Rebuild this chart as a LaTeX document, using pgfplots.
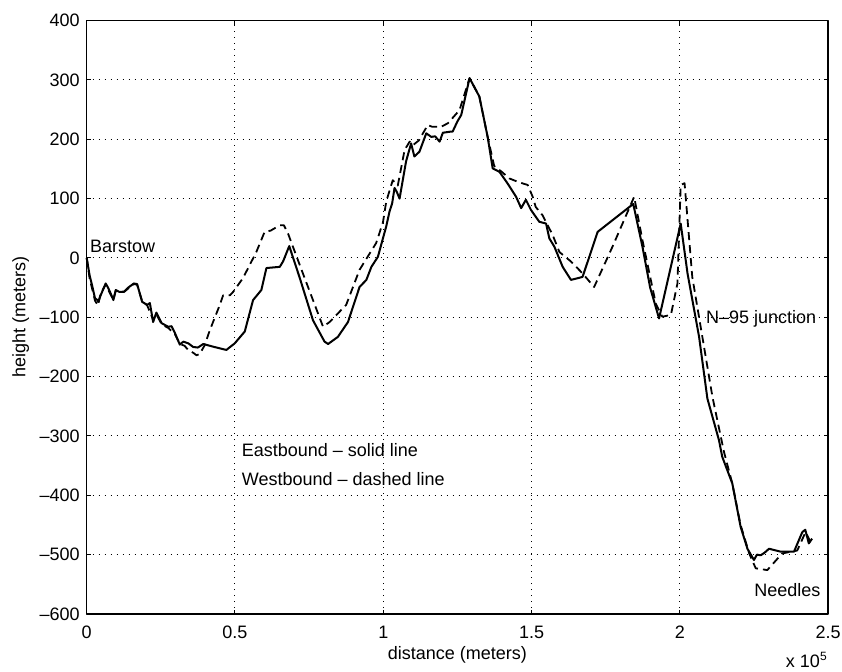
\documentclass[border=0pt]{standalone}
\usepackage{fontspec}
\setmainfont{Liberation Sans}
\usepackage{pgfplots}
\pgfplotsset{compat=1.18}

\begin{document}
\begin{tikzpicture}[font=\fontsize{9}{11}\selectfont]
\path[use as bounding box] (-43.35pt,-28.5pt) rectangle (377.65pt,307pt);
\begin{axis}[
    at={(0,0)}, anchor=south west,
    scale only axis, width=370.7pt, height=296.7pt,
    xmin=0, xmax=250000, ymin=-600, ymax=400,
    xtick={0,50000,100000,150000,200000,250000},
    xticklabels={0,0.5,1,1.5,2,2.5},
    ytick={-600,-500,-400,-300,-200,-100,0,100,200,300,400},
    yticklabels={--600,--500,--400,--300,--200,--100,0,100,200,300,400},
    scaled x ticks=false, scaled y ticks=false,
    tick align=inside, tick pos=both,
    major tick length=2pt,
    tick style={black, line width=0.5pt},
    axis line style={line width=0.7pt},
    xticklabel style={yshift=-2.5pt},
    grid=major,
    major grid style={black, line width=0.5pt, dash pattern=on 0.5pt off 2.5pt},
    every axis x label/.style={at={(rel axis cs:0.5,0)}, yshift=-20.5pt, anchor=center},
    every axis y label/.style={at={(rel axis cs:0,0.5)}, xshift=-33pt, rotate=90, anchor=center},
    xlabel={distance (meters)},
    ylabel={height (meters)},
    clip=false,
    line join=round,
]
% Eastbound
\addplot[black, line width=1pt] coordinates {
(0,0) (1000,-30) (1900,-48) (2800,-68) (3600,-71) (3900,-74) (4700,-63)
(6400,-43) (7200,-50) (8100,-60) (9000,-71) (9800,-54) (10900,-57)
(12600,-57) (14000,-50) (15900,-43) (17000,-44) (18700,-74) (20400,-79)
(21300,-76) (22400,-108) (23500,-92) (25300,-110) (27500,-116) (28600,-115)
(29700,-126) (31400,-146) (32600,-141) (34300,-144) (35900,-150) (37500,-151)
(39300,-145) (43000,-150) (47100,-155) (49900,-144) (53300,-124) (56100,-71)
(58900,-54) (60600,-17) (65100,-15) (66200,-6) (68300,20) (71800,-33)
(76300,-105) (80200,-141) (81400,-145) (84700,-133) (88100,-108) (92000,-49)
(94300,-37) (96000,-15) (98200,2) (100000,35) (101000,53) (102100,78)
(103000,92) (103800,118) (104500,112) (105500,100) (107700,163) (109400,193)
(110500,171) (112200,179) (114500,210) (116200,204) (117500,205) (119000,196)
(120100,211) (122900,213) (123400,213) (125000,230) (126300,241) (129100,303)
(130500,290) (132400,272) (135200,204) (136900,151) (139200,145) (142000,125)
(144800,103) (146500,84) (148100,98) (149800,81) (152600,61) (154900,58)
(156000,33) (157700,19) (160500,-15) (163300,-37) (167200,-32) (172300,44)
(184300,91) (187400,19) (190000,-50) (193000,-102) (200300,58) (202600,-26)
(206500,-133) (209300,-237) (213200,-307) (214300,-335) (217700,-380)
(220500,-453) (222800,-490) (225000,-509) (226000,-500) (227300,-501)
(228500,-497) (230100,-490) (234000,-495) (238500,-495) (241300,-462)
(242300,-458) (243500,-481) (244600,-473)
};
% Westbound
\addplot[black, line width=0.9pt, dash pattern=on 4pt off 2.5pt] coordinates {
(0,0) (1000,-35) (2000,-55) (2800,-72) (3800,-80) (4700,-60) (6400,-45)
(8100,-62) (9000,-70) (9800,-55) (12600,-57) (15900,-44) (17000,-45)
(18700,-73) (20400,-80) (22400,-104) (23500,-95) (25300,-112) (27500,-118)
(29700,-128) (31400,-145) (33000,-148) (34200,-155) (36000,-160) (37000,-164)
(38100,-162) (39800,-147) (41500,-122) (44900,-79) (46000,-63) (48300,-63)
(49400,-57) (52700,-34) (57200,10) (60000,44) (62000,46) (65100,55)
(66500,55) (67900,41) (72900,-26) (79700,-116) (81900,-108) (87500,-79)
(92000,-20) (97600,25) (99900,60) (101000,95) (103200,131) (104900,122)
(107200,182) (108900,196) (110000,190) (112000,198) (115000,224) (116500,221)
(119500,221) (121800,227) (125700,249) (129100,303) (132400,272) (135200,204)
(137400,155) (140000,145) (142500,134) (145500,128) (148700,123) (150400,103)
(151400,86) (153700,72) (157100,39) (159400,10) (163300,-6) (167200,-26)
(171100,-49) (177300,19) (184600,103) (187400,30) (191900,-77) (194100,-99)
(197000,-96) (199200,-43) (200300,123) (201600,126) (204200,-32) (207600,-133)
(211000,-234) (214900,-327) (217700,-380) (220500,-450) (223400,-498)
(225600,-523) (229500,-526) (234500,-498) (239600,-493) (242400,-462)
(244000,-478) (244600,-470)
};
\node[anchor=base west, inner sep=0] at (axis cs:1000,9) {Barstow};
\node[anchor=base west, inner sep=0] at (axis cs:208700,-110) {N--95 junction};
\node[anchor=base west, inner sep=0] at (axis cs:225000,-571) {Needles};
\node[anchor=base west, inner sep=0] at (axis cs:52200,-334) {Eastbound -- solid line};
\node[anchor=base west, inner sep=0] at (axis cs:52200,-383) {Westbound -- dashed line};
\node[anchor=north east, inner sep=0, yshift=-18.8pt] at (rel axis cs:1,0) {x 10\textsuperscript{5}};
\end{axis}
\end{tikzpicture}
\end{document}
